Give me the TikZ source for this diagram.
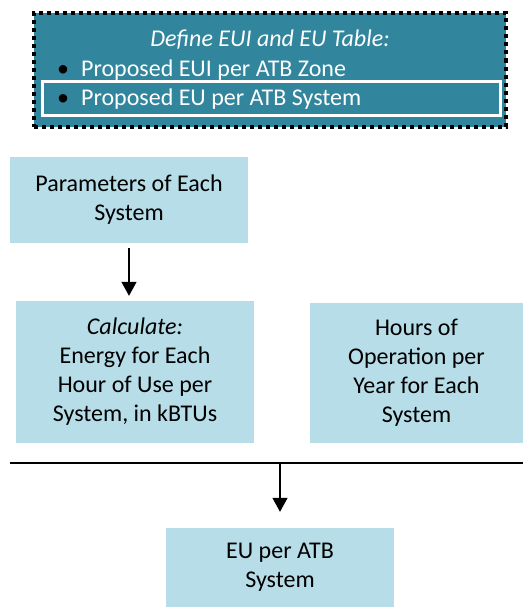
\documentclass[tikz,border=0pt]{standalone}
\usepackage{fontspec}
\setmainfont{Carlito}
\usetikzlibrary{arrows.meta, positioning}
\definecolor{tealbox}{HTML}{31859C}
\definecolor{lightbox}{HTML}{B7DDE8}
\tikzset{>={Triangle[width=15pt,length=14pt]}}
\tikzset{stepbox/.style={fill=lightbox, align=center, inner sep=0pt, font=\fontsize{24}{29}\selectfont}}
\tikzset{arr/.style={->, line width=1.4pt}}

\begin{document}
\begin{tikzpicture}[x=1pt, y=1pt]
\useasboundingbox (0,0) rectangle (523,-607);
% top table box
\node[fill=tealbox, draw=black, line width=4pt, dash pattern=on 4pt off 4pt, minimum width=472pt, minimum height=113pt, inner sep=0pt] (table) at (270,-70) {};
\node[text=white, font=\fontsize{24}{29}\selectfont\itshape] (tabletitle) at (270,-40) {Define EUI and EU Table:};
\node[anchor=west, text=white, font=\fontsize{24}{29}\selectfont, inner sep=0pt] (zone) at (57,-70) {\textcolor{black}{\textbullet}\hspace{12pt}Proposed EUI per ATB Zone};
\node[draw=white, line width=3pt, minimum width=458pt, minimum height=34pt, inner sep=0pt] (sysframe) at (271,-99) {};
\node[anchor=west, text=white, font=\fontsize{24}{29}\selectfont, inner sep=0pt] (sys) at (57,-99) {\textcolor{black}{\textbullet}\hspace{12pt}Proposed EU per ATB System};

% flow boxes
\node[stepbox, minimum width=238pt, minimum height=86pt] (params) at (129,-200) {Parameters of Each\\System};
\node[stepbox, minimum width=238pt, minimum height=142pt] (calc) at (135,-372) {\textit{Calculate:}\\Energy for Each\\Hour of Use per\\System, in kBTUs};
\node[stepbox, minimum width=213pt, minimum height=140pt] (hours) at (416.5,-373) {Hours of\\Operation per\\Year for Each\\System};
\node[stepbox, minimum width=228pt, minimum height=79pt] (eu) at (280,-567.5) {EU per ATB\\System};

% connectors
\draw[arr, shorten <=5pt, shorten >=5pt] (params.south) -- (params.south |- calc.north);
\coordinate (lineL) at (10,-463);
\coordinate (lineR) at (523,-463);
\draw[line width=1.6pt] (lineL) -- (lineR);
\draw[arr, shorten >=16pt] (lineL -| eu.north) -- (eu.north);
\end{tikzpicture}
\end{document}
